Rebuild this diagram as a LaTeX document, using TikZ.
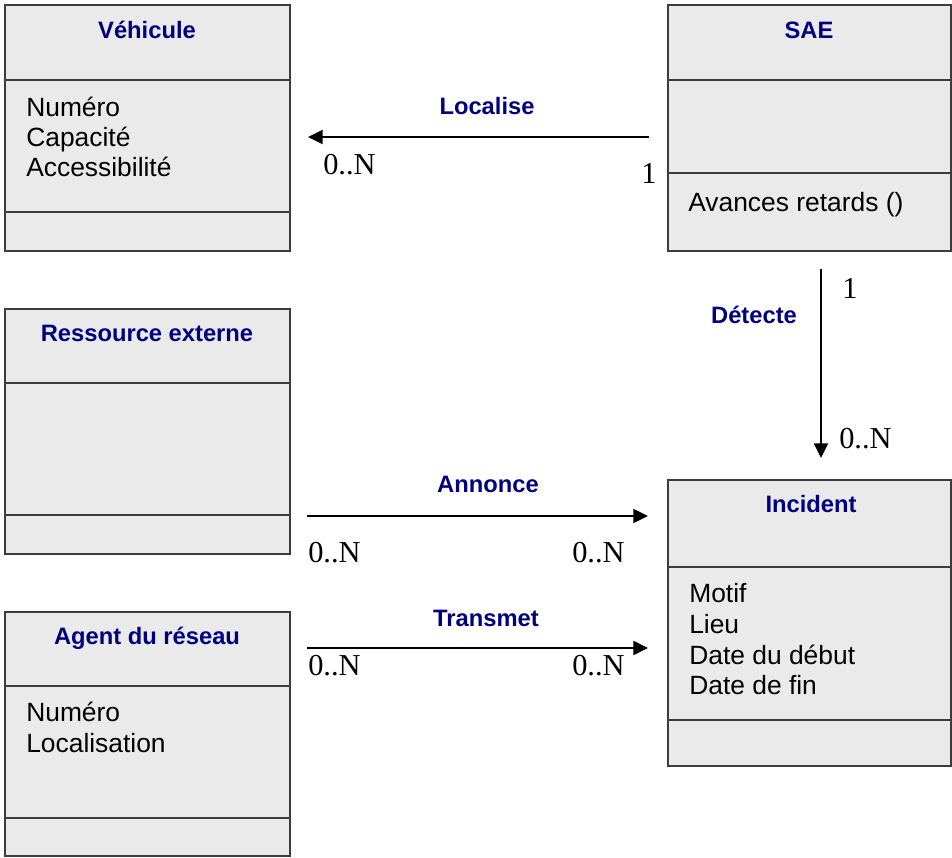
\documentclass[tikz,border=0pt]{standalone}
\usepackage{fontspec}
\setmainfont{Liberation Sans}
\newfontfamily\timesf{Liberation Serif}
\usetikzlibrary{arrows.meta}
\definecolor{navytxt}{RGB}{0,0,128}
\definecolor{boxfill}{RGB}{234,234,234}
\definecolor{boxline}{RGB}{60,60,60}
\tikzset{
  classbox/.style={draw=boxline, fill=boxfill, line width=1.5pt, anchor=north west, inner sep=0pt},
  divider/.style={draw=boxline, line width=1.5pt},
  ctitle/.style={inner sep=0pt, anchor=base, text=navytxt, font=\fontsize{17.8}{21}\selectfont\bfseries},
  attr/.style={inner sep=0pt, anchor=base west, font=\fontsize{19.8}{23}\selectfont},
  alabel/.style={inner sep=0pt, anchor=base, text=navytxt, font=\fontsize{17.8}{21}\selectfont\bfseries},
  mult/.style={inner sep=0pt, anchor=base west, font=\timesf\fontsize{22.8}{26}\selectfont},
  assoc/.style={draw=black, line width=1.5pt, -{Triangle[length=11pt,width=10.5pt]}}
}
\begin{document}
\begin{tikzpicture}[x=0.75pt,y=-0.75pt]
\useasboundingbox (0,0) rectangle (952,857);
% class boxes
\node[classbox, minimum width=213.75pt, minimum height=184.5pt] (veh) at (4,4) {};
\node[classbox, minimum width=212.25pt, minimum height=184.5pt] (sae) at (667,4) {};
\node[classbox, minimum width=213.75pt, minimum height=183.75pt] (res) at (4,308) {};
\node[classbox, minimum width=212.25pt, minimum height=214.5pt] (inc) at (667,479) {};
\node[classbox, minimum width=213.75pt, minimum height=183pt] (agent) at (4,611) {};
% dividers
\draw[divider] (veh.west |- 0,80) -- (veh.east |- 0,80);
\draw[divider] (veh.west |- 0,212) -- (veh.east |- 0,212);
\draw[divider] (sae.west |- 0,80) -- (sae.east |- 0,80);
\draw[divider] (sae.west |- 0,173) -- (sae.east |- 0,173);
\draw[divider] (res.west |- 0,383) -- (res.east |- 0,383);
\draw[divider] (res.west |- 0,515) -- (res.east |- 0,515);
\draw[divider] (inc.west |- 0,567) -- (inc.east |- 0,567);
\draw[divider] (inc.west |- 0,720) -- (inc.east |- 0,720);
\draw[divider] (agent.west |- 0,686) -- (agent.east |- 0,686);
\draw[divider] (agent.west |- 0,818) -- (agent.east |- 0,818);
% titles
\node[ctitle] (vehT) at (147,38) {Véhicule};
\node[ctitle] (saeT) at (809,38) {SAE};
\node[ctitle] (resT) at (147,341) {Ressource externe};
\node[ctitle] (incT) at (811,512) {Incident};
\node[ctitle] (agentT) at (147,644) {Agent du réseau};
% attributes
\node[attr] (veh1) at (26,116) {Numéro};
\node[attr] (veh2) at (26,146) {Capacité};
\node[attr] (veh3) at (26,176) {Accessibilité};
\node[attr] (sae1) at (688,211) {Avances retards ()};
\node[attr] (inc1) at (689,602) {Motif};
\node[attr] (inc2) at (689,633) {Lieu};
\node[attr] (inc3) at (689,664) {Date du début};
\node[attr] (inc4) at (689,694) {Date de fin};
\node[attr] (agent1) at (26,721) {Numéro};
\node[attr] (agent2) at (26,752) {Localisation};
% connector end points
\coordinate (locS) at (649,137);
\coordinate (locE) at (308,137);
\coordinate (detS) at (821,269);
\coordinate (detE) at (821,458);
\coordinate (annS) at (307,516);
\coordinate (annE) at (648,516);
\coordinate (traS) at (307,648);
\coordinate (traE) at (648,648);
% connectors
\draw[assoc] (locS) -- (locE);
\draw[assoc] (detS) -- (detE);
\draw[assoc] (annS) -- (annE);
\draw[assoc] (traS) -- (traE);
% association labels
\node[alabel] (locL) at (487,114) {Localise};
\node[alabel] (detL) at (754,323) {Détecte};
\node[alabel] (annL) at (488,492) {Annonce};
\node[alabel] (traL) at (486,626) {Transmet};
% multiplicities
\node[mult] (locM1) at (323,174) {0..N};
\node[mult] (locM2) at (641,183) {1};
\node[mult] (detM1) at (842,298) {1};
\node[mult] (detM2) at (839,448) {0..N};
\node[mult] (annM1) at (308,562) {0..N};
\node[mult] (annM2) at (572,562) {0..N};
\node[mult] (traM1) at (308,675) {0..N};
\node[mult] (traM2) at (572,675) {0..N};
\end{tikzpicture}
\end{document}
